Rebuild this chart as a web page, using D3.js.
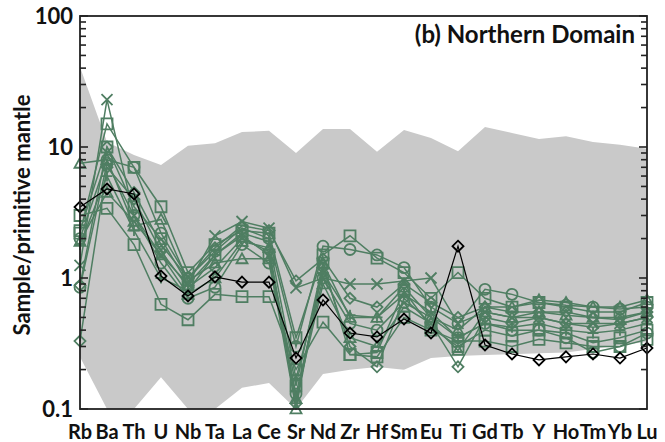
<!DOCTYPE html>
<html><head><meta charset="utf-8">
<script src="https://cdn.jsdelivr.net/npm/d3@7"></script>
<style>body{margin:0;background:#fff}svg{display:block}text{font-family:Lato,"Open Sans",sans-serif;font-weight:bold}</style>
</head><body><svg id="c" width="665" height="442"></svg>
<script>
const elements = ["Rb","Ba","Th","U","Nb","Ta","La","Ce","Sr","Nd","Zr","Hf","Sm","Eu","Ti","Gd","Tb","Y","Ho","Tm","Yb","Lu"];
const envelopeUpper = [40.8,10.9,8.7,7.3,10.2,10.7,13.0,13.3,9.0,13.7,13.7,9.2,13.5,11.7,9.3,14.2,12.8,11.5,12.1,10.9,10.4,9.7];
const envelopeLower = [0.249,0.1,0.1,0.175,0.1,0.1,0.145,0.158,0.1,0.185,0.199,0.209,0.199,0.245,0.254,0.258,0.262,0.266,0.27,0.287,0.308,0.324];
const yTicks = [0.1,1,10,100];
const yTickLabels = ["0.1","1","10","100"];

const g1 = [1.25,23,3.0,1.5,0.9,2.1,2.7,2.4,0.84,1.0,0.9,0.9,0.95,1.0,0.45,0.55,0.5,0.5,0.45,0.45,0.45,0.5];
const g2 = [2.2,15,7.0,3.5,1.1,1.8,2.3,2.2,0.35,1.5,2.1,1.42,1.1,0.7,1.1,0.7,0.6,0.65,0.6,0.55,0.55,0.65];
const g3 = [2.0,8,7.0,2.2,1.0,1.6,2.4,2.0,0.3,1.75,1.65,1.5,1.2,0.6,0.45,0.82,0.75,0.65,0.62,0.6,0.58,0.6];
const g4 = [7.5,8,2.5,2.8,0.95,1.3,1.4,1.4,0.1,1.3,0.5,0.5,0.85,0.5,0.4,0.6,0.6,0.68,0.65,0.6,0.6,0.68];
const g5 = [0.33,7,4,1.6,0.85,1.2,2.0,1.6,0.11,1.2,0.3,0.21,0.7,0.45,0.21,0.5,0.45,0.5,0.45,0.42,0.45,0.5];
const g6 = [3.0,3.4,1.8,0.63,0.48,0.75,0.72,0.72,0.2,0.46,0.26,0.25,0.5,0.4,0.33,0.33,0.3,0.34,0.32,0.3,0.3,0.34];
const g7 = [1.8,6,2.3,1.0,0.8,1.5,2.2,1.9,0.17,1.1,0.52,0.5,0.75,0.55,0.35,0.45,0.42,0.45,0.4,0.38,0.4,0.45];
const g8 = [0.88,10,4.5,1.8,1.0,1.7,2.5,2.3,0.95,1.4,0.7,0.6,0.9,0.65,0.5,0.6,0.55,0.55,0.55,0.5,0.5,0.55];
const g9 = [2.3,10,3.5,2.0,0.9,1.5,2.1,1.5,0.15,1.3,0.26,0.27,0.8,0.42,0.3,0.4,0.36,0.4,0.38,0.32,0.35,0.4];
const g10 = [0.85,7.5,3.0,1.3,0.7,0.85,1.8,1.3,0.13,1.0,0.45,0.4,0.65,0.5,0.35,0.45,0.4,0.4,0.35,0.27,0.3,0.38];
const g11 = [1.9,4.5,2.7,1.5,0.75,1.0,1.9,1.7,0.12,0.9,0.35,0.3,0.6,0.45,0.28,0.55,0.5,0.55,0.52,0.5,0.48,0.55];
const blackSample = [3.48,4.78,4.38,1.035,0.73,1.02,0.93,0.93,0.245,0.68,0.38,0.355,0.486,0.38,1.75,0.308,0.263,0.237,0.25,0.263,0.245,0.292];

const greenSeries = [
  {v:g1,m:"x"},{v:g2,m:"square"},{v:g3,m:"circle"},{v:g4,m:"triangle"},{v:g5,m:"diamond"},
  {v:g6,m:"square"},{v:g7,m:"plus"},{v:g8,m:"diamond"},{v:g9,m:"square"},{v:g10,m:"circle"},{v:g11,m:"triangle"}
];

const GREEN = "#4f7e62", GREY = "#c9c9c9";
const L=80, R=647, T=16, B=409;
const svg = d3.select("#c");
const x = d3.scalePoint().domain(elements).range([L,R]);
const y = d3.scaleLog().domain([0.1,100]).range([B,T]);

function marker(type, s){
  const h=s/2;
  switch(type){
    case "square": return `M${-h},${-h}H${h}V${h}H${-h}Z`;
    case "circle": return `M${h},0A${h},${h} 0 1,1 ${-h},0A${h},${h} 0 1,1 ${h},0Z`;
    case "triangle": return `M0,${-h}L${h},${h*0.8}L${-h},${h*0.8}Z`;
    case "diamond": return `M0,${-h}L${h},0L0,${h}L${-h},0Z`;
    case "plus": return `M${-h},0H${h}M0,${-h}V${h}`;
    case "x": return `M${-h},${-h}L${h},${h}M${-h},${h}L${h},${-h}`;
  }
}

// envelope
const area = d3.area().x((d,i)=>x(elements[i])).y0((d,i)=>y(envelopeLower[i])).y1(d=>y(d));
svg.append("path").attr("d", area(envelopeUpper)).attr("fill", GREY);

const line = d3.line().x((d,i)=>x(elements[i])).y(d=>y(d));
function drawSeries(vals, m, color, sw, ms){
  const g = svg.append("g");
  g.append("path").attr("d", line(vals)).attr("fill","none").attr("stroke",color).attr("stroke-width",sw);
  g.selectAll("path.m").data(vals).join("path").attr("class","m")
    .attr("transform",(d,i)=>`translate(${x(elements[i])},${y(d)})`)
    .attr("d", marker(m, ms)).attr("fill","none").attr("stroke",color).attr("stroke-width",1.8);
}
greenSeries.forEach(s=>drawSeries(s.v, s.m, GREEN, 1.5, 11));
drawSeries(blackSample, "diamond", "#000", 1.2, 11);

// frame
svg.append("rect").attr("x",L).attr("y",T).attr("width",R-L).attr("height",B-T)
  .attr("fill","none").attr("stroke","#222").attr("stroke-width",1.8);

// ticks on left and right (inward)
const minor = [];
[0.1,1,10].forEach(d=>{for(let k=2;k<=9;k++) minor.push(d*k);});
const tg = svg.append("g").attr("stroke","#222").attr("stroke-width",1.6);
yTicks.forEach(v=>{
  tg.append("line").attr("x1",L).attr("x2",L+8).attr("y1",y(v)).attr("y2",y(v));
  tg.append("line").attr("x1",R).attr("x2",R-8).attr("y1",y(v)).attr("y2",y(v));
});
minor.forEach(v=>{
  tg.append("line").attr("x1",L).attr("x2",L+6).attr("y1",y(v)).attr("y2",y(v));
  tg.append("line").attr("x1",R).attr("x2",R-6).attr("y1",y(v)).attr("y2",y(v));
});

// y tick labels
svg.selectAll("text.yt").data(yTicks).join("text").attr("class","yt")
  .attr("x",73).attr("y",d=>y(d)+8).attr("text-anchor","end")
  .attr("font-size",22).attr("fill","#111").text((d,i)=>yTickLabels[i]);

// x labels
svg.selectAll("text.xl").data(elements).join("text").attr("class","xl")
  .attr("x",d=>x(d)).attr("y",439).attr("text-anchor","middle")
  .attr("font-size",20).attr("fill","#111").text(d=>d);

// y title
svg.append("text").attr("transform","translate(30,215) rotate(-90)").attr("text-anchor","middle")
  .attr("font-size",22).attr("fill","#111").text("Sample/primitive mantle");

// panel title
svg.append("text").attr("x",635).attr("y",43).attr("text-anchor","end")
  .attr("font-size",24).attr("fill","#111").text("(b) Northern Domain");
</script></body></html>
